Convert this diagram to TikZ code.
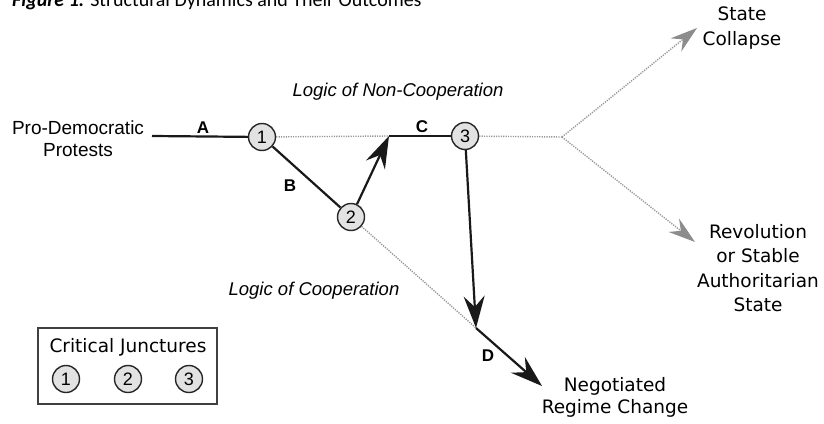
\documentclass[tikz,border=0pt]{standalone}
\usepackage{fontspec}
\setmainfont{Liberation Sans}
\newfontfamily\dvfont{DejaVu Sans}
\newfontfamily\carlfont{Carlito}
\usetikzlibrary{arrows.meta}
\definecolor{dotgray}{RGB}{150,150,150}
\definecolor{arrgray}{RGB}{140,140,140}
\definecolor{circfill}{RGB}{226,226,226}
\tikzset{
  lab/.style={font=\fontsize{19}{22}\selectfont, align=center, inner sep=2pt},
  dvlab/.style={font=\dvfont\fontsize{18.5}{24.5}\selectfont, align=center, inner sep=2pt},
  letter/.style={font=\bfseries\fontsize{17}{18}\selectfont, inner sep=1pt},
  logic/.style={font=\itshape\fontsize{18.5}{22}\selectfont, inner sep=1pt},
  juncture/.style={circle, draw=black!85, fill=circfill, line width=1.4pt, minimum size=27pt, inner sep=0pt, font=\fontsize{18}{18}\selectfont},
  solidline/.style={line width=2.2pt, black!90},
  dotline/.style={dotgray, line width=1.4pt, dash pattern=on 1.2pt off 1.2pt},
  bigarrow/.style={-{Stealth[length=32pt, width=21pt, inset=11pt]}},
  grayarrow/.style={dotline, -{Stealth[length=27pt, width=17pt, inset=9pt, color=arrgray, fill=arrgray]}},
  legendbox/.style={draw=black!75, line width=1.6pt, minimum width=179pt, minimum height=76pt, inner sep=0pt}
}
\begin{document}
\begin{tikzpicture}[x=1pt,y=-1pt]
\useasboundingbox (0,0) rectangle (824,423);

% title (cut at the top edge, as in the reference)
\node[anchor=base west, inner sep=0pt, font=\carlfont\fontsize{20}{22}\selectfont] (title) at (12,6)
  {{\bfseries\itshape Figure 1.} Structural Dynamics and Their Outcomes};

% junctures
\node[juncture] (c1) at (262,137) {1};
\node[juncture] (c2) at (351,217) {2};
\node[juncture] (c3) at (465,136) {3};

% coordinates
\coordinate (j) at (389,136);
\coordinate (br) at (562,137);
\coordinate (d0) at (476,328);
\coordinate (dt) at (542,386);
\coordinate (sctip) at (697,28);
\coordinate (rvtip) at (695,242);
\coordinate (astart) at (152,136);

% text nodes
\node[lab] (pdp) at (78,139) {Pro-Democratic\\Protests};
\node[dvlab, font=\dvfont\fontsize{18.5}{25}\selectfont] (sc) at (742,28) {State\\Collapse};
\node[dvlab] (rv) at (758,268) {Revolution\\or Stable\\Authoritarian\\State};
\node[dvlab, font=\dvfont\fontsize{18.5}{22}\selectfont] (nrc) at (615,397) {Negotiated\\Regime Change};
\node[logic] (lnc) at (398,92) {Logic of Non-Cooperation};
\node[logic] (lc) at (314,291) {Logic of Cooperation};

% letters
\node[letter] (la) at (203,128) {A};
\node[letter] (lb) at (290,186) {B};
\node[letter] (lcc) at (422,127) {C};
\node[letter] (ld) at (488,356) {D};

% dotted paths
\draw[dotline] (c1) -- (j);
\draw[dotline] (c3) -- (br);
\draw[dotline] (c2) -- (d0);
\draw[grayarrow] (br) -- (sctip);
\draw[grayarrow] (br) -- (rvtip);

% solid paths
\draw[solidline] (astart) -- (c1);
\draw[solidline] (c1) -- (c2);
\draw[solidline] (j) -- (c3);
\draw[solidline, bigarrow] (c2) -- (j);
\draw[solidline, bigarrow] (c3) -- (d0);
\draw[solidline, bigarrow] (d0) -- (dt);

% legend
\node[legendbox] (legend) at (127.5,366) {};
\node[font=\dvfont\fontsize{18.5}{20}\selectfont, inner sep=0pt] (legtitle) at (128,347) {Critical Junctures};
\node[juncture] (l1) at (66,379) {1};
\node[juncture] (l2) at (128,379) {2};
\node[juncture] (l3) at (189,379) {3};
\end{tikzpicture}
\end{document}
